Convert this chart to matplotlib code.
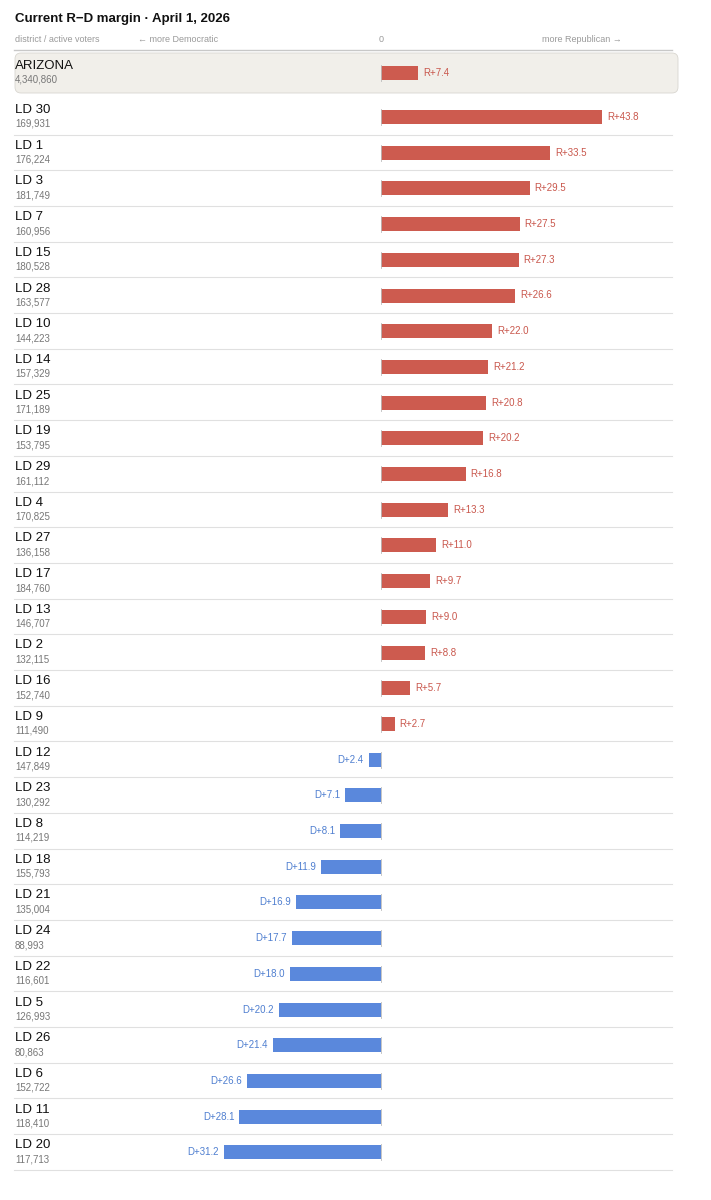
import matplotlib.pyplot as plt
from matplotlib.patches import FancyBboxPatch

plt.rcParams['font.family'] = ['Liberation Sans', 'DejaVu Sans']

districts = ['LD 30', 'LD 1', 'LD 3', 'LD 7', 'LD 15', 'LD 28', 'LD 10', 'LD 14', 'LD 25',
             'LD 19', 'LD 29', 'LD 4', 'LD 27', 'LD 17', 'LD 13', 'LD 2', 'LD 16', 'LD 9',
             'LD 12', 'LD 23', 'LD 8', 'LD 18', 'LD 21', 'LD 24', 'LD 22', 'LD 5', 'LD 26',
             'LD 6', 'LD 11', 'LD 20']
voters = ['169,931', '176,224', '181,749', '160,956', '180,528', '163,577', '144,223', '157,329',
          '171,189', '153,795', '161,112', '170,825', '136,158', '184,760', '146,707', '132,115',
          '152,740', '111,490', '147,849', '130,292', '114,219', '155,793', '135,004', '88,993',
          '116,601', '126,993', '80,863', '152,722', '118,410', '117,713']
margins = [43.8, 33.5, 29.5, 27.5, 27.3, 26.6, 22.0, 21.2, 20.8, 20.2, 16.8, 13.3, 11.0, 9.7,
           9.0, 8.8, 5.7, 2.7, -2.4, -7.1, -8.1, -11.9, -16.9, -17.7, -18.0, -20.2, -21.4,
           -26.6, -28.1, -31.2]
state_name = 'ARIZONA'
state_voters = '4,340,860'
state_margin = 7.4

RED, BLUE = '#cd5b4f', '#5a88dc'
RED_T, BLUE_T = '#c9574c', '#4f7fd0'
PX = 5.04        # pixels per margin point
ZERO = 381       # pixel x of zero

fig = plt.figure(figsize=(7.11, 12), dpi=100)
ax = fig.add_axes([0, 0, 1, 1])
ax.set_xlim(-ZERO / PX, (711 - ZERO) / PX)
ax.set_ylim(1200, 0)
ax.axis('off')

def px(x):
    return (x - ZERO) / PX

ax.text(px(15), 19, 'Current R\u2212D margin \u00b7 April 1, 2026', fontsize=9.5,
        fontweight='bold', va='center', color='#111111')
ax.text(px(15), 40, 'district / active voters', fontsize=6.5, color='#9a9a9a', va='center')
ax.text(px(138), 40, '\u2190 more Democratic', fontsize=6.5, color='#9a9a9a', va='center')
ax.text(px(379), 40, '0', fontsize=6.5, color='#9a9a9a', va='center')
ax.text(px(542), 40, 'more Republican \u2192', fontsize=6.5, color='#9a9a9a', va='center')
ax.plot([px(14), px(672)], [50, 50], color='#c8c8c8', lw=1)

bg = FancyBboxPatch((px(15), 53), px(678) - px(15), 40, boxstyle='round,pad=0,rounding_size=1.2',
                    fc='#f1efea', ec='#d8d6d0', lw=0.6, mutation_aspect=5)
ax.add_patch(bg)


def draw_row(y, name, vot, m, bold=False):
    ax.text(px(15), y - 7, name, fontsize=9.5, color='#111111', va='center')
    ax.text(px(15), y + 7, vot, fontsize=7, color='#777777', va='center')
    col, tcol = (RED, RED_T) if m > 0 else (BLUE, BLUE_T)
    ax.barh(y, m, left=0, height=14, color=col)
    ax.plot([0, 0], [y - 8, y + 8], color='#bbbbbb', lw=0.6)
    lab = ('R+%.1f' if m > 0 else 'D+%.1f') % abs(m)
    if m > 0:
        ax.text(m + 1.0, y, lab, fontsize=7, color=tcol, va='center', ha='left')
    else:
        ax.text(m - 1.0, y, lab, fontsize=7, color=tcol, va='center', ha='right')


draw_row(73, state_name, state_voters, state_margin)
for i, (d, v, m) in enumerate(zip(districts, voters, margins)):
    y = 117 + i * 35.7
    draw_row(y, d, v, m)
    ax.plot([px(14), px(672)], [y + 17.5, y + 17.5], color='#e0e0e0', lw=0.8)

fig.savefig('out.png', dpi=100, facecolor='white')
